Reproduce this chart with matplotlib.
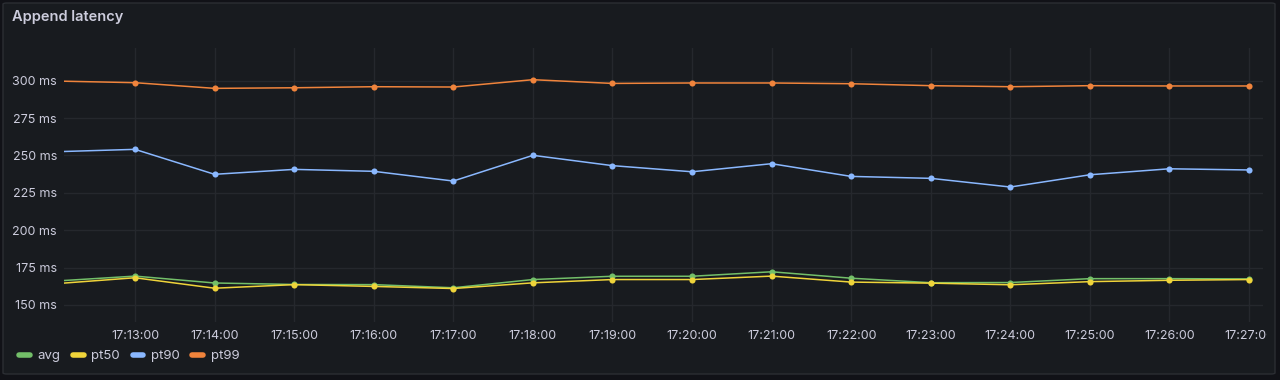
import matplotlib
matplotlib.use("Agg")
import matplotlib.pyplot as plt
import matplotlib.dates as mdates
from matplotlib.lines import Line2D
from matplotlib.patches import FancyBboxPatch
from matplotlib.transforms import Bbox
import pandas as pd

# sample times (one point per minute)
times = ["17:12:00", "17:13:00", "17:14:00", "17:15:00", "17:16:00", "17:17:00",
         "17:18:00", "17:19:00", "17:20:00", "17:21:00", "17:22:00", "17:23:00",
         "17:24:00", "17:25:00", "17:26:00", "17:27:00"]

# latency in ms
avg = [166.0, 169.3, 164.7, 163.7, 163.6, 161.5, 167.0, 169.2,
       169.2, 172.2, 167.9, 164.9, 165.0, 167.6, 167.6, 167.4]
pt50 = [164.2, 168.2, 161.2, 163.6, 162.4, 161.0, 164.8, 167.0,
        167.0, 169.3, 165.3, 164.6, 163.5, 165.6, 166.5, 167.0]
pt90 = [252.5, 254.1, 237.4, 240.7, 239.4, 232.9, 250.1, 243.2,
        239.1, 244.5, 236.0, 234.7, 228.9, 237.1, 241.1, 240.3]
pt99 = [299.8, 298.7, 294.9, 295.3, 296.0, 295.8, 300.7, 298.2,
        298.5, 298.5, 298.0, 296.7, 296.0, 296.7, 296.5, 296.5]

series_names = ["avg", "pt50", "pt90", "pt99"]
series_colors = ["#73BF69", "#EFD43A", "#8AB8FF", "#F0843C"]
y_ticks = [150, 175, 200, 225, 250, 275, 300]

t = pd.to_datetime(["2024-01-01 " + s for s in times])

plt.rcParams["font.family"] = ["Inter", "DejaVu Sans"]
text_color = "#ccccdc"
panel_bg = "#181b1f"
grid_color = "#25282d"

fig = plt.figure(figsize=(12.8, 3.8), dpi=100, facecolor="#111217")

# panel box, behind the axes
panel = FancyBboxPatch((3 / 1280, 6 / 380), 1272 / 1280, 371 / 380,
                       boxstyle="round,pad=0,rounding_size=0.003",
                       transform=fig.transFigure, facecolor=panel_bg,
                       edgecolor="#2b2e33", linewidth=1, zorder=-5)
fig.patches.append(panel)

fig.text(12 / 1280, 1 - 17 / 380, "Append latency", color=text_color,
         fontsize=10.5, fontweight="semibold", va="center", ha="left")

ax = fig.add_axes([64 / 1280, 1 - 322 / 380, 1199 / 1280, 274 / 380])
ax.set_facecolor(panel_bg)
ax.patch.set_alpha(0)

for vals, name, color in zip([avg, pt50, pt90, pt99], series_names, series_colors):
    ax.plot(t, vals, color=color, lw=1.1, marker="o", markersize=4.4,
            markeredgewidth=0, label=name)

x0 = pd.Timestamp("2024-01-01 17:12:06.5")
x1 = pd.Timestamp("2024-01-01 17:27:10.5")
ax.set_xlim(x0, x1)
ax.set_ylim(138.6, 321.9)

ax.set_yticks(y_ticks)
ax.set_yticklabels([f"{v} ms" for v in y_ticks])
ax.xaxis.set_major_locator(mdates.MinuteLocator())
ax.xaxis.set_major_formatter(mdates.DateFormatter("%H:%M:%S"))

ax.tick_params(axis="both", length=0, colors=text_color, labelsize=9)
ax.tick_params(axis="y", pad=5)
ax.tick_params(axis="x", pad=6)
ax.grid(True, color=grid_color, linewidth=1)
ax.set_axisbelow(True)
for sp in ax.spines.values():
    sp.set_visible(False)

# last time label is cut off at the canvas edge
fig.canvas.draw()
clip = Bbox.from_extents(0, 0, 1267, 380)
for lab in ax.get_xticklabels():
    lab.set_clip_on(True)
    lab.set_clip_box(clip)

handles = [Line2D([0], [0], color=c, lw=4, solid_capstyle="round") for c in series_colors]
fig.legend(handles, series_names, loc="center left",
           bbox_to_anchor=(19 / 1280, 1 - 356 / 380), ncol=4, frameon=False,
           handlelength=0.8, handletextpad=0.6, columnspacing=0.95,
           fontsize=9.5, labelcolor=text_color, borderaxespad=0, borderpad=0)

fig.savefig("out.png", dpi=100, facecolor=fig.get_facecolor())
